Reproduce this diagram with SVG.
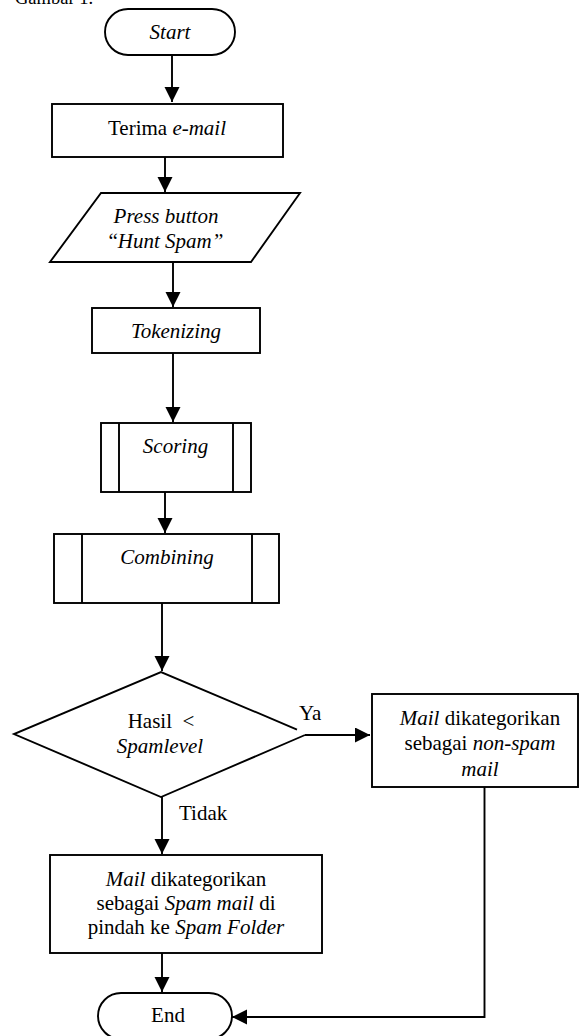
<svg xmlns="http://www.w3.org/2000/svg" width="579" height="1036" viewBox="0 0 579 1036">
<style>
.s{fill:#fff;stroke:#000;stroke-width:1.9}
.c{fill:none;stroke:#000;stroke-width:1.9}
text{font-family:"Liberation Serif","Times New Roman",serif;font-size:21px;fill:#000}
.m{text-anchor:middle}
.i{font-style:italic}
</style>
<defs>
<marker id="ah" markerUnits="userSpaceOnUse" markerWidth="16" markerHeight="16" refX="15" refY="7.5" orient="auto">
<path d="M0,0 L15,7.5 L0,15 Z" fill="#000"/>
</marker>
</defs>
<text x="15" y="4" style="font-size:18.5px">Gambar 1.</text>
<g id="connectors">
<line class="c" x1="172" y1="55" x2="172" y2="102" marker-end="url(#ah)"/>
<line class="c" x1="165" y1="157" x2="165" y2="192" marker-end="url(#ah)"/>
<line class="c" x1="173" y1="262" x2="173" y2="307" marker-end="url(#ah)"/>
<line class="c" x1="173" y1="353" x2="173" y2="422" marker-end="url(#ah)"/>
<line class="c" x1="165" y1="492" x2="165" y2="533" marker-end="url(#ah)"/>
<line class="c" x1="162" y1="603" x2="162" y2="671" marker-end="url(#ah)"/>
<line class="c" x1="305" y1="735" x2="370" y2="735" marker-end="url(#ah)"/>
<line class="c" x1="162" y1="797" x2="162" y2="854" marker-end="url(#ah)"/>
<line class="c" x1="162" y1="953" x2="162" y2="992" marker-end="url(#ah)"/>
<polyline class="c" points="484.5,787 484.5,1017 232,1017" marker-end="url(#ah)"/>
<text x="299" y="720">Ya</text>
<text x="179" y="820">Tidak</text>
</g>
<g id="start">
<rect class="s" x="105" y="9" width="130" height="46" rx="23"/>
<text class="m i" x="170" y="39">Start</text>
</g>
<g id="terima">
<rect class="s" x="52" y="104" width="231" height="53"/>
<text class="m" x="167" y="135">Terima <tspan class="i">e-mail</tspan></text>
</g>
<g id="press">
<polygon class="s" points="101,193 300,193 251,262 50,262"/>
<text class="m i" x="166" y="223">Press button</text>
<text class="m" x="166" y="248">“<tspan class="i">Hunt Spam”</tspan></text>
</g>
<g id="tokenizing">
<rect class="s" x="92" y="308" width="168" height="45"/>
<text class="m i" x="176" y="338">Tokenizing</text>
</g>
<g id="scoring">
<rect class="s" x="101" y="423" width="150" height="69"/>
<line class="c" x1="119" y1="423" x2="119" y2="492"/>
<line class="c" x1="233" y1="423" x2="233" y2="492"/>
<text class="m i" x="175.5" y="453">Scoring</text>
</g>
<g id="combining">
<rect class="s" x="54" y="534" width="225" height="69"/>
<line class="c" x1="82" y1="534" x2="82" y2="603"/>
<line class="c" x1="252" y1="534" x2="252" y2="603"/>
<text class="m i" x="167" y="564">Combining</text>
</g>
<g id="decision">
<path class="s" d="M305,735 L161,797 L14,734 L161,672 L297,729.5"/>
<text class="m" x="161" y="728" xml:space="preserve">Hasil  &lt;</text>
<text class="m i" x="160" y="753">Spamlevel</text>
</g>
<g id="nonspam">
<rect class="s" x="372" y="694" width="206" height="93"/>
<text class="m" x="480" y="725"><tspan class="i">Mail</tspan> dikategorikan</text>
<text class="m" x="480" y="750">sebagai <tspan class="i">non-spam</tspan></text>
<text class="m i" x="480" y="776">mail</text>
</g>
<g id="spam">
<rect class="s" x="50" y="855" width="272" height="98"/>
<text class="m" x="186" y="886"><tspan class="i">Mail</tspan> dikategorikan</text>
<text class="m" x="186" y="910">sebagai <tspan class="i">Spam mail</tspan> di</text>
<text class="m" x="186" y="934">pindah ke <tspan class="i">Spam Folder</tspan></text>
</g>
<g id="end">
<rect class="s" x="98" y="993" width="134" height="46" rx="23"/>
<text class="m" x="168" y="1022">End</text>
</g>
</svg>
